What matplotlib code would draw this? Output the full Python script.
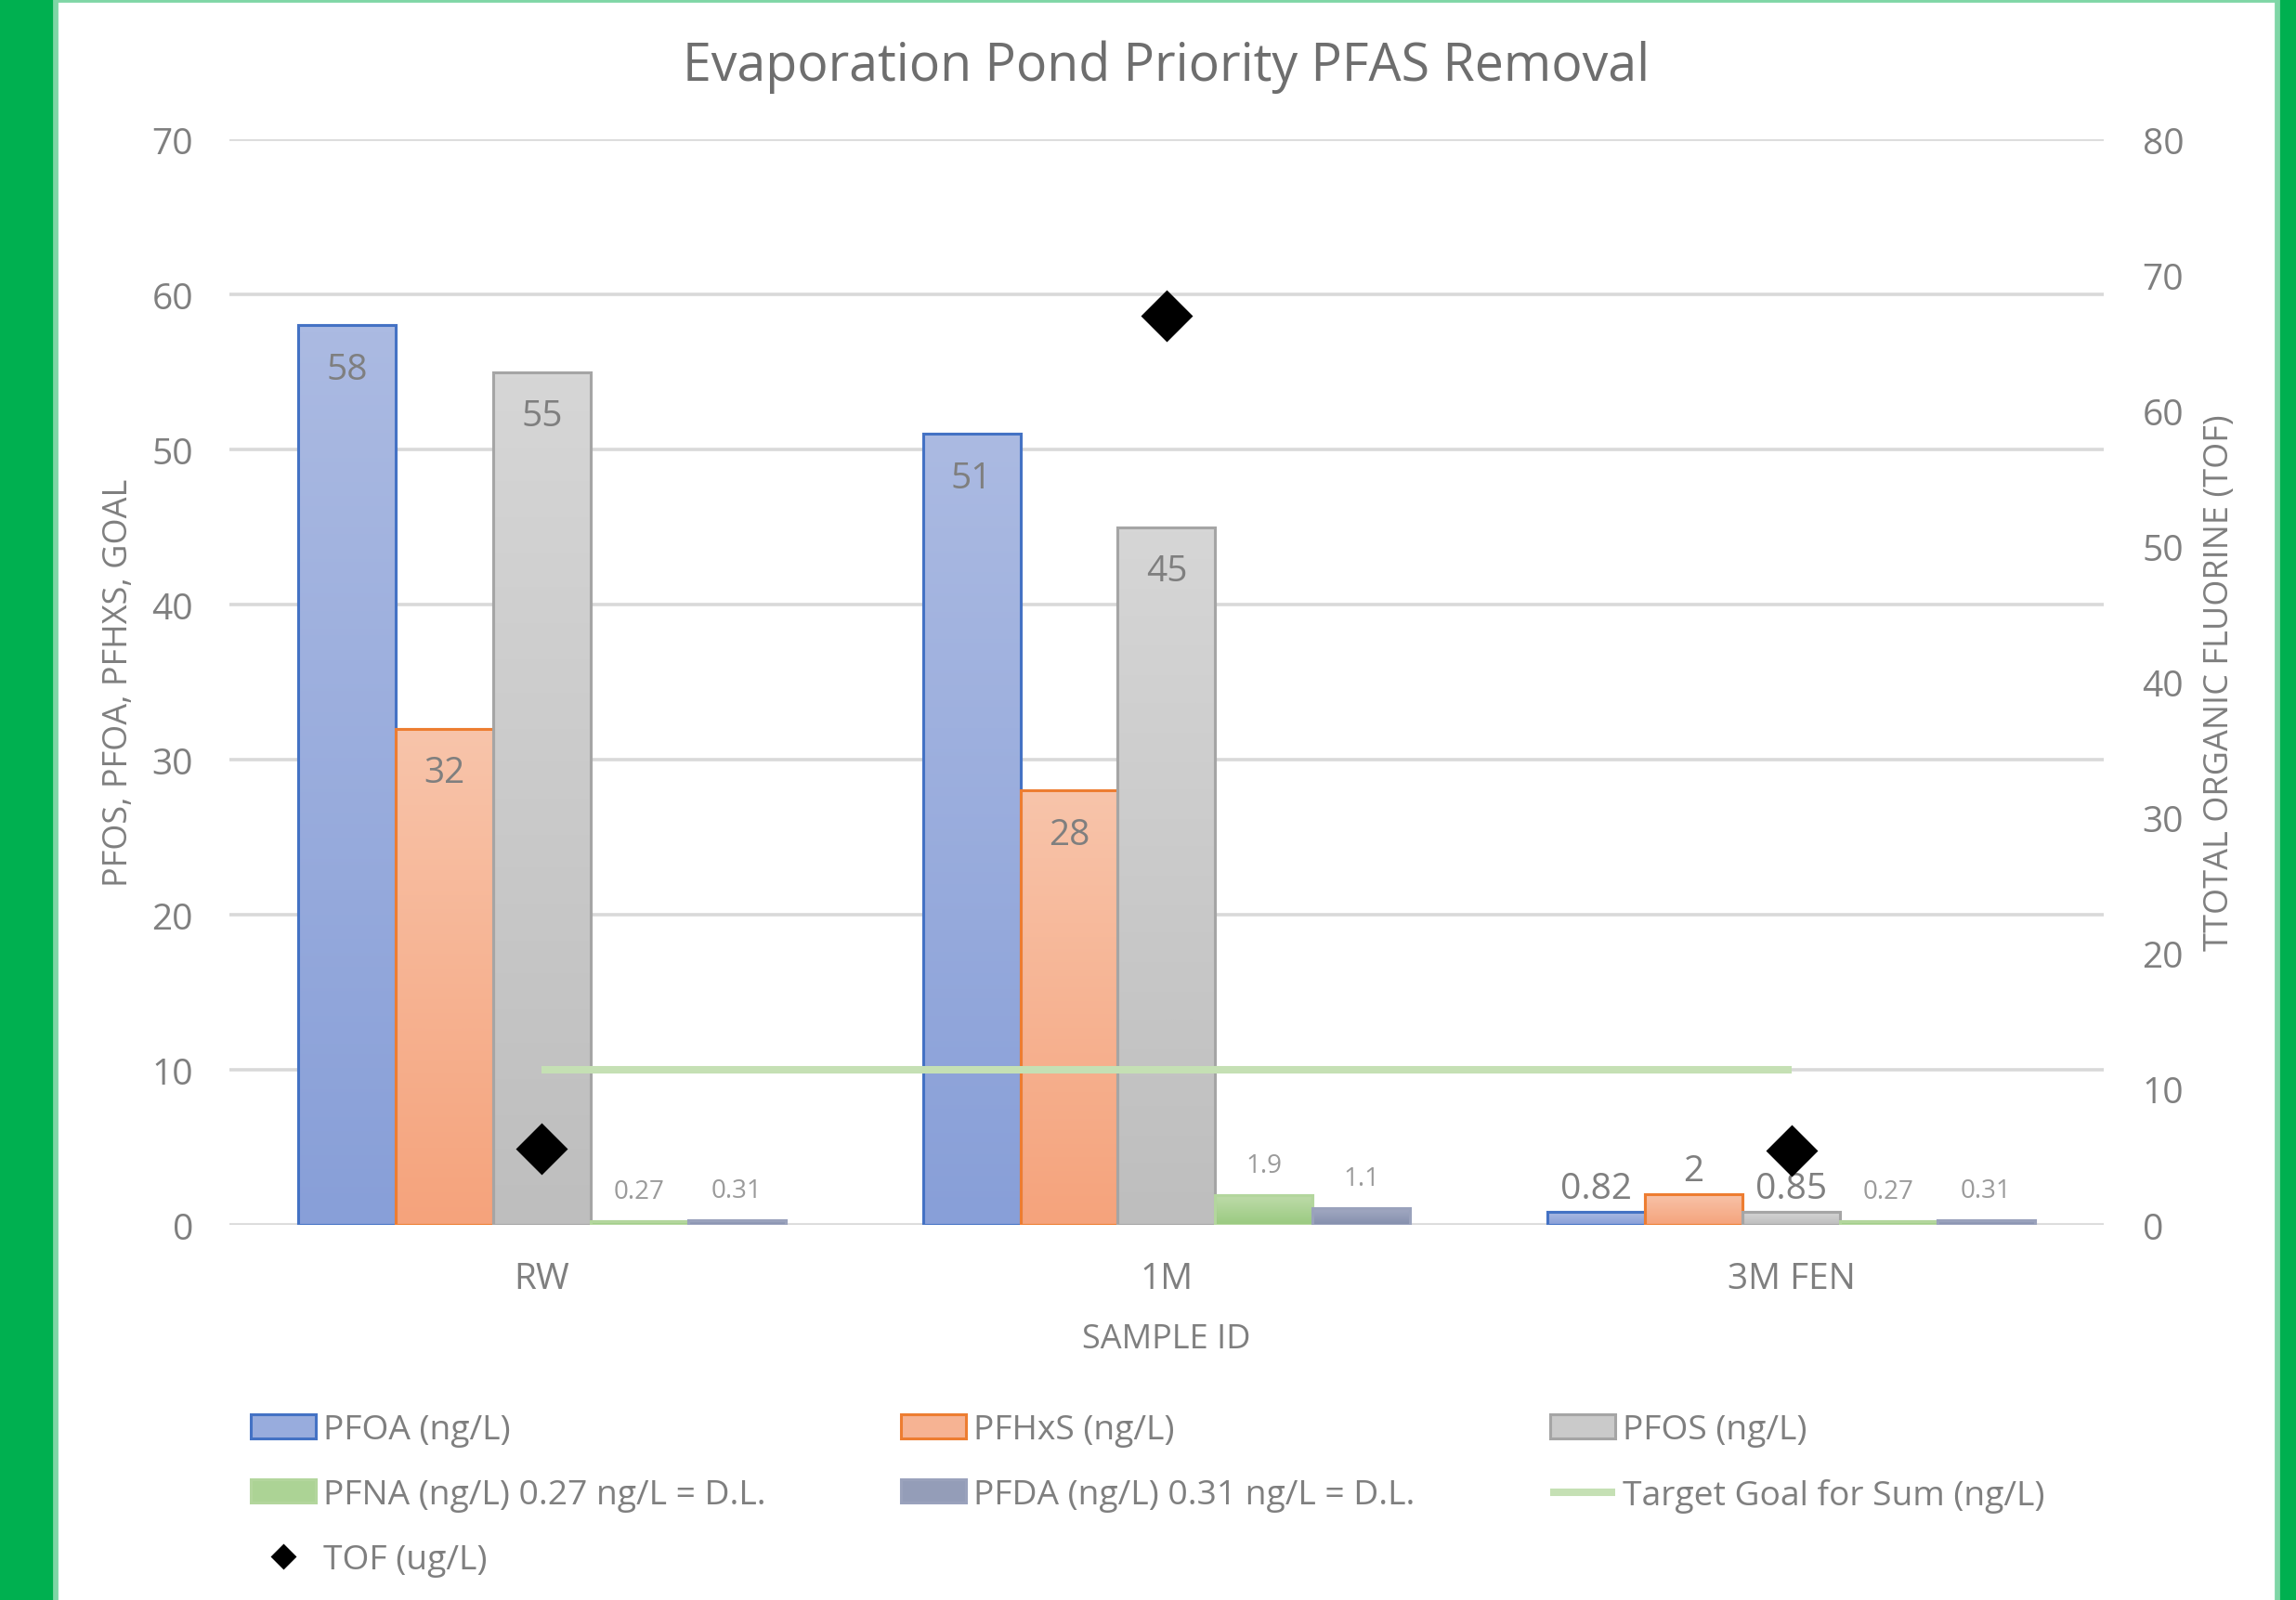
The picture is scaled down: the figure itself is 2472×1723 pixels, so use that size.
import numpy as np
import matplotlib.pyplot as plt
from matplotlib.patches import Rectangle
from matplotlib.colors import LinearSegmentedColormap

plt.rcParams['font.family'] = ['Open Sans', 'DejaVu Sans']

# data
samples = ['RW', '1M', '3M FEN']
pfoa = [58, 51, 0.82]
pfhxs = [32, 28, 2]
pfos = [55, 45, 0.85]
pfna = [0.27, 1.9, 0.27]
pfda = [0.31, 1.1, 0.31]
target_goal = [10, 10, 10]
tof = [5.6, 67, 5.5]

series_names = ['PFOA (ng/L)', 'PFHxS (ng/L)', 'PFOS (ng/L)',
                'PFNA (ng/L) 0.27 ng/L = D.L.', 'PFDA (ng/L) 0.31 ng/L = D.L.']
series_vals = [pfoa, pfhxs, pfos, pfna, pfda]

# excel style gradient fills (top, bottom) and edges
top_cols = ['#ABBAE2', '#F8C4AA', '#D6D6D6', '#BEDBAA', '#A4ABC4']
bot_cols = ['#889FD8', '#F5A37C', '#BEBEBE', '#9ACA80', '#858FAD']
mid_cols = ['#98ACDD', '#F6B393', '#CACACA', '#ACD395', '#949DB8']
edge_cols = ['#4472C4', '#ED7D31', '#A5A5A5', '#B3D69D', '#9AA2BC']

grid_col = '#D9D9D9'
text_col = '#7F7F7F'

fig = plt.figure(figsize=(12.36, 8.62), dpi=200)
ax = fig.add_axes([0.0999, 0.2343, 0.8163, 0.6781])
ax2 = ax.twinx()

x = np.arange(len(samples))
w = 0.156

bar_handles = []
for j, (name, vals) in enumerate(zip(series_names, series_vals)):
    pos = x + (j - 2) * w
    bars = ax.bar(pos, vals, w, color=mid_cols[j], edgecolor=edge_cols[j],
                  linewidth=1.1, label=name, zorder=2)
    bar_handles.append(bars)
    cmap = LinearSegmentedColormap.from_list('g%d' % j, [bot_cols[j], top_cols[j]])
    grad = np.linspace(0, 1, 128).reshape(-1, 1)
    for p in bars.patches:
        x0, y0 = p.get_x(), p.get_y()
        im = ax.imshow(grad, cmap=cmap, origin='lower', aspect='auto',
                       extent=(x0, x0 + p.get_width(), y0, y0 + p.get_height()),
                       zorder=2.2, interpolation='bilinear')
        im.set_clip_path(p)
    # outline on top of the gradient
    ax.bar(pos, vals, w, fill=False, edgecolor=edge_cols[j], linewidth=1.1, zorder=2.4)

    # data labels
    for xi, v in zip(pos, vals):
        lbl = ('%g' % v)
        if j < 3:
            if v > 5:
                ax.annotate(lbl, xy=(xi, v), xytext=(0, -17), textcoords='offset points',
                            ha='center', va='center', fontsize=14, color=text_col, zorder=5)
            else:
                ax.annotate(lbl, xy=(xi, v), xytext=(0, 9), textcoords='offset points',
                            ha='center', va='center', fontsize=14, color=text_col, zorder=5)
        else:
            ax.annotate(lbl, xy=(xi, v), xytext=(0, 11.5), textcoords='offset points',
                        ha='center', va='center', fontsize=10, color='#9A9A9A', zorder=5)

goal_line, = ax.plot(x, target_goal, color='#C5E0B4', lw=2.9, zorder=3,
                     solid_capstyle='butt', label='Target Goal for Sum (ng/L)')

tof_pts, = ax2.plot(x, tof, linestyle='none', marker='D', ms=13, color='black',
                    label='TOF (ug/L)', zorder=5)

ax.set_xlim(-0.5, 2.5)
ax.set_ylim(0, 70)
ax.set_yticks(np.arange(0, 71, 10))
ax2.set_ylim(0, 80)
ax2.set_yticks(np.arange(0, 81, 10))
ax.set_xticks(x)
ax.set_xticklabels(samples)

ax.grid(axis='y', color=grid_col, lw=1.3, zorder=0)
ax.set_axisbelow(True)
for a in (ax, ax2):
    for s in a.spines.values():
        s.set_visible(False)

ax.tick_params(axis='y', length=0, pad=14, labelsize=14, labelcolor=text_col)
ax.tick_params(axis='x', length=0, pad=14, labelsize=14, labelcolor=text_col)
ax2.tick_params(axis='y', length=0, pad=15, labelsize=14, labelcolor=text_col)

ax.set_title('Evaporation Pond Priority PFAS Removal', fontsize=20, color='#6E6E6E', pad=23)
ax.set_xlabel('SAMPLE ID', fontsize=13, color=text_col, labelpad=10)
ax.set_ylabel('PFOS, PFOA, PFHXS, GOAL', fontsize=13, color=text_col)
ax.yaxis.set_label_coords(-0.05, 0.5)
ax2.set_ylabel('TTOTAL ORGANIC FLUORINE (TOF)', fontsize=13, color=text_col)
ax2.yaxis.set_label_coords(1.053, 0.5)

# legend, filled row by row like excel
hs = [bar_handles[0], bar_handles[3], tof_pts, bar_handles[1], bar_handles[4],
      bar_handles[2], goal_line]
leg = fig.legend(hs, [h.get_label() for h in hs], ncol=3, loc='upper left',
                 bbox_to_anchor=(0.1092, 0.1166), frameon=False, fontsize=13.4,
                 handlelength=1.88, handleheight=0.67, handletextpad=0.22,
                 columnspacing=3.9, labelspacing=0.91, borderpad=0, borderaxespad=0,
                 labelcolor=text_col)
leg.legend_handles[2].set_markersize(6)

# green frame around the picture
fig.add_artist(Rectangle((0, 0), 58 / 2472, 1, transform=fig.transFigure,
                         color='#00B050', zorder=10))
fig.add_artist(Rectangle((58 / 2472, 0), 3 / 2472, 1, transform=fig.transFigure,
                         color='#7FD6A6', zorder=10))
fig.add_artist(Rectangle((2453 / 2472, 0), 19 / 2472, 1, transform=fig.transFigure,
                         color='#00B050', zorder=10))
fig.add_artist(Rectangle((2450 / 2472, 0), 3 / 2472, 1, transform=fig.transFigure,
                         color='#7FD6A6', zorder=10))
fig.add_artist(Rectangle((0, 1 - 2 / 1724), 1, 2 / 1724, transform=fig.transFigure,
                         color='#7FD6A6', zorder=9))

fig.savefig('out.png', dpi=200)
